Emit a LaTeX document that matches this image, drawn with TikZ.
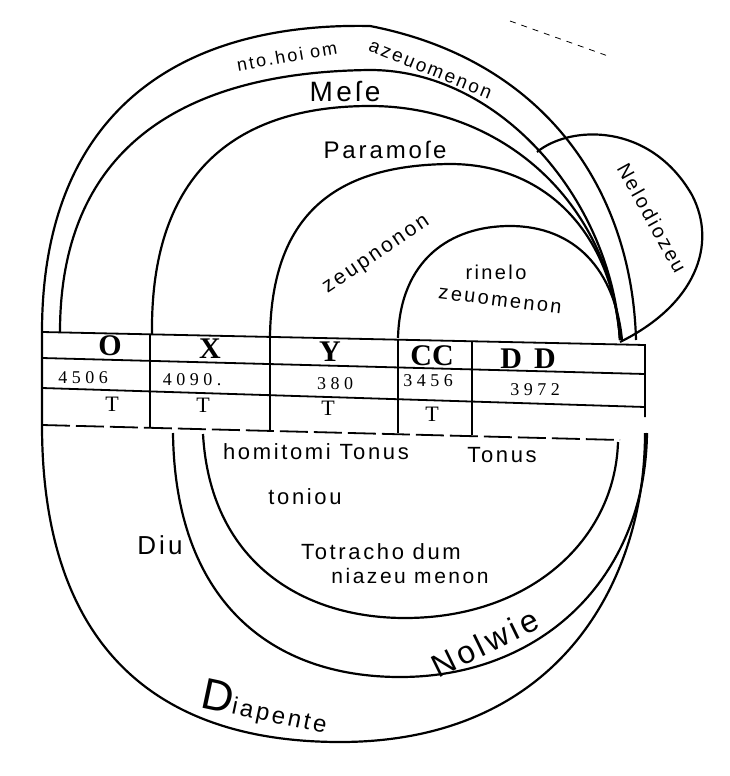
\documentclass[tikz,border=0pt]{standalone}
\usepackage{fontspec}
\setmainfont{Liberation Serif}
\newfontfamily\scanfont[LetterSpace=12]{Liberation Sans}
\newfontfamily\numfont[LetterSpace=25]{Liberation Serif}
\usepackage{tikz}

\tikzset{
  arcline/.style={line width=1.1pt},
  tabrule/.style={line width=0.9pt},
  lbl/.style={font=\scanfont\fontsize{#1}{#1}\selectfont, inner sep=0pt},
  lbl/.default=10,
  lethead/.style={font=\bfseries\fontsize{15}{15}\selectfont, inner sep=0pt},
  numlbl/.style={font=\numfont\fontsize{9}{9}\selectfont, inner sep=0pt}
}

\begin{document}
\begin{tikzpicture}[x=0.5pt,y=-0.5pt]
\useasboundingbox (0,0) rectangle (729,776);

\draw[arcline] (636,340) .. controls (632,190) and (545,60) .. (370,26)
  .. controls (170,22) and (42,120) .. (42,332) -- (42,425)
  .. controls (42,640) and (150,742) .. (340,742)
  .. controls (560,742) and (645,580) .. (645,433);
\draw[dashed] (510,21) -- (608,56);

\draw[arcline] (60,332) .. controls (60,150) and (180,72) .. (370,70) .. controls (500,70) and (612,200) .. (620,340);
\draw[arcline] (152,334) .. controls (150,160) and (250,106) .. (370,106) .. controls (500,106) and (610,200) .. (620,340);
\draw[arcline] (270,336) .. controls (272,210) and (340,165) .. (450,164) .. controls (545,164) and (612,232) .. (620,340);
\draw[arcline] (398,338) .. controls (400,260) and (450,226) .. (510,226) .. controls (575,226) and (615,270) .. (622,340);
\draw[arcline] (537,152) .. controls (570,125) and (650,122) .. (692,195) .. controls (718,245) and (695,305) .. (620,342);

\draw[tabrule] (42,332) -- (645,345) -- (645,417);
\draw[tabrule] (42,358) -- (645,374);
\draw[tabrule] (42,388) -- (645,407);
\draw[tabrule, dash pattern=on 14pt off 3pt] (42,425) -- (620,440);
\foreach \x/\a/\b in {150/334/427,270/336/430,398/339/433,472/341/435}
  \draw[tabrule] (\x,\a) -- (\x,\b);

\draw[arcline] (203,434) .. controls (210,560) and (300,618) .. (405,618) .. controls (530,618) and (615,540) .. (618,442);
\draw[arcline] (173,433) .. controls (175,600) and (270,677) .. (400,677) .. controls (540,677) and (645,580) .. (647,433);

\node[lbl=9, rotate=10] (nete) at (287,56) {nto.hoi om};
\node[lbl=9.5, rotate=-22] (azeu) at (430,70) {azeuomenon};
\node[lbl=14] (mese) at (345,92) {Meſe};
\node[lbl=12] (param) at (385,150) {Paramoſe};
\node[lbl=10.5, rotate=34] (zeug) at (377,256) {zeupnonon};
\node[lbl=10] (trite) at (496,272) {rinelo};
\node[lbl=10, rotate=-7] (zeuo) at (500,301) {zeuomenon};
\node[lbl=10, rotate=-61] (netedia) at (652,218) {Nelodiozeu};

\foreach \x/\y/\t [count=\i] in {110/346/O, 210/349/X, 330/352/Y, 432/356/CC, 528/359/{D\hspace{6pt}D}}
  \node[lethead] (let\i) at (\x,\y) {\t};
\foreach \x/\y/\t [count=\i] in {83/378/4506, 192/380/4090., 335/384/380, 428/381/3456, 535/390/3972}
  \node[numlbl] (num\i) at (\x,\y) {\t};
\foreach \x/\y [count=\i] in {112/404, 203/405, 328/408, 432/414}
  \node[lethead, font=\fontsize{11}{11}\selectfont] (ton\i) at (\x,\y) {T};

\node[lbl=11] (semi) at (316,452) {homitomi Tonus};
\node[lbl=11] (tonus) at (502,455) {Tonus};
\node[lbl=11] (toniou) at (305,497) {toniou};
\node[lbl=11] (tetra) at (381,552) {Totracho dum};
\node[lbl=10.5] (diaz) at (410,576) {niazeu menon};
\node[lbl=13] (diu) at (160,545) {Diu};
\node[lbl=16, rotate=26] (notui) at (485,643) {Nolwie};
\node[lbl=12, rotate=-12] (diap) at (265,708) {{\fontsize{22}{22}\selectfont D}iapente};
\end{tikzpicture}
\end{document}
